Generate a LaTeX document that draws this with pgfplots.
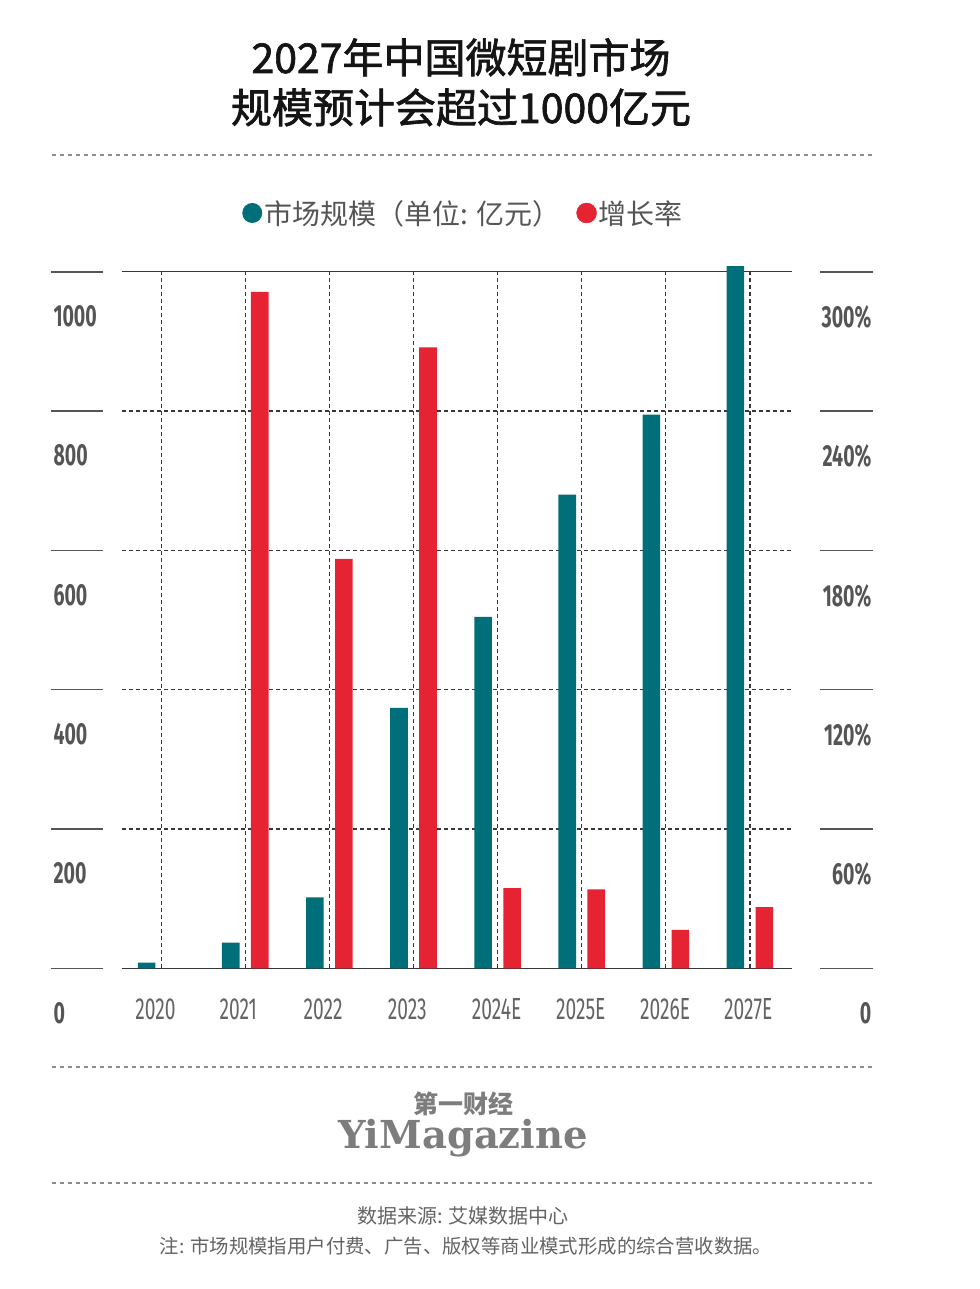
\documentclass[border=0pt]{standalone}
\usepackage{fontspec}
\usepackage{pgfplots}
\pgfplotsset{compat=1.18}
\setmainfont{Noto Sans CJK SC}
\newfontfamily\cjk{Noto Sans CJK SC}
\newfontfamily\titlef[FakeBold=1.6]{Noto Sans CJK SC}
\newfontfamily\ynum[FakeStretch=0.64]{Fira Sans}
\newfontfamily\xnum[FakeStretch=0.63]{Fira Sans}
\newfontfamily\slab{DejaVu Serif}
\definecolor{teal1}{RGB}{0,111,121}
\definecolor{red1}{RGB}{230,35,50}
\definecolor{txtgray}{RGB}{85,85,85}
\definecolor{lblgray}{RGB}{100,100,100}
\definecolor{gridgray}{RGB}{55,55,55}
\definecolor{sepgray}{RGB}{140,140,140}
\definecolor{logogray}{RGB}{125,125,125}

\pgfplotsset{
  common/.style={
    scale only axis, width=670.3pt, height=696.6pt,
    at={(122pt,-968.3pt)}, anchor=south west,
    xmin=-0.467, xmax=7.503, ymin=0, clip=false,
    separate axis lines,
    tick align=inside,
  }
}

\begin{document}
\begin{tikzpicture}
\useasboundingbox (0pt,0pt) rectangle (979pt,-1289pt);
\fill[white] (0pt,0pt) rectangle (979pt,-1289pt);
\begin{scope}[x=1pt,y=-1pt]
  \node[anchor=base, inner sep=0pt, text={rgb,255:red,20;green,20;blue,20}, font=\titlef\fontsize{41}{50}\selectfont] at (461,73) {2027年中国微短剧市场};
  \node[anchor=base, inner sep=0pt, text={rgb,255:red,20;green,20;blue,20}, font=\titlef\fontsize{41}{50}\selectfont] at (461,123) {规模预计会超过1000亿元};
  \draw[sepgray, line width=1.2pt, dash pattern=on 4pt off 4pt] (52,155) -- (873,155);
  \draw[sepgray, line width=1.2pt, dash pattern=on 4pt off 4pt] (52,1067) -- (873,1067);
  \draw[sepgray, line width=1.2pt, dash pattern=on 4pt off 4pt] (52,1183) -- (873,1183);
  \node[inner sep=0pt, text=logogray, font=\cjk\bfseries\fontsize{25}{28}\selectfont] at (463,1104) {第一财经};
  \node[anchor=base, inner sep=0pt, text=logogray, font=\slab\bfseries\fontsize{38.5}{42}\selectfont] at (463,1148) {YiMagazine};
  \node[inner sep=0pt, text=lblgray, font=\cjk\fontsize{20}{24}\selectfont] at (463,1216) {数据来源: 艾媒数据中心};
  \node[inner sep=0pt, text=lblgray, font=\cjk\fontsize{19.4}{24}\selectfont] at (466,1246) {注: 市场规模指用户付费、广告、版权等商业模式形成的综合营收数据。};
\end{scope}

\begin{axis}[common,
  ymax=1000,
  xtick={0,1,2,3,4,5,6,7},
  xticklabels={2020,2021,2022,2023,2024E,2025E,2026E,2027E},
  ytick={0,200,400,600,800,1000},
  yticklabels={0,200,400,600,800,1000},
  xmajorgrids, ymajorgrids,
  grid style={gridgray, line width=1.1pt, dash pattern=on 4pt off 3pt},
  x axis line style={gridgray, line width=1.4pt},
  y axis line style={draw=none},
  ytick pos=left, yticklabel pos=left,
  xtick style={draw=none},
  major tick length=51.6pt,
  ytick style={draw=txtgray, line width=1.6pt, xshift=-70.6pt},
  yticklabel style={anchor=north west, inner sep=0pt, xshift=-68.7pt, yshift=-33.7pt,
    font=\ynum\bfseries\fontsize{30.5}{32}\selectfont, text=txtgray},
  xticklabel style={anchor=north west, inner sep=0pt, yshift=-30pt, xshift=-26pt,
    font=\xnum\fontsize{30.5}{32}\selectfont, text=lblgray},
  legend columns=2,
  legend style={draw=none, fill=none, at={(0.5095,1.0843)}, anchor=center,
    font=\cjk\fontsize{28}{32}\selectfont, text=txtgray,
    /tikz/every even column/.append style={column sep=14pt},
    nodes={inner sep=2pt, text=txtgray}},
]
\addplot[ybar, fill=teal1, draw=none, bar width=17.6pt, bar shift=-14.6pt,
  legend image code/.code={\fill[teal1] (10pt,0pt) circle (10pt);}]
  coordinates {(0,8) (1,36.8) (2,101.7) (3,373.9) (4,504.4) (5,680) (6,795) (7,1008)};
\addlegendentry{市场规模（单位: 亿元）}
\addlegendimage{legend image code/.code={\fill[red1] (10pt,0pt) circle (10pt);}}
\addlegendentry{增长率}
\end{axis}

\begin{axis}[common,
  ymax=300,
  xtick=\empty,
  ytick={0,60,120,180,240,300},
  yticklabels={0,60\%,120\%,180\%,240\%,300\%},
  x axis line style={draw=none},
  y axis line style={draw=none},
  ytick pos=right, yticklabel pos=right,
  major tick length=53pt,
  ytick style={draw=txtgray, line width=1.6pt, xshift=80.3pt},
  yticklabel style={anchor=north east, inner sep=0pt, xshift=79.3pt, yshift=-33.7pt,
    font=\ynum\bfseries\fontsize{30.5}{32}\selectfont, text=txtgray},
]
\addplot[ybar, fill=red1, draw=none, bar width=17.6pt, bar shift=14.4pt]
  coordinates {(1,291.3) (2,176.3) (3,267.4) (4,34.5) (5,34.0) (6,16.5) (7,26.4)};
\end{axis}
\end{tikzpicture}
\end{document}
